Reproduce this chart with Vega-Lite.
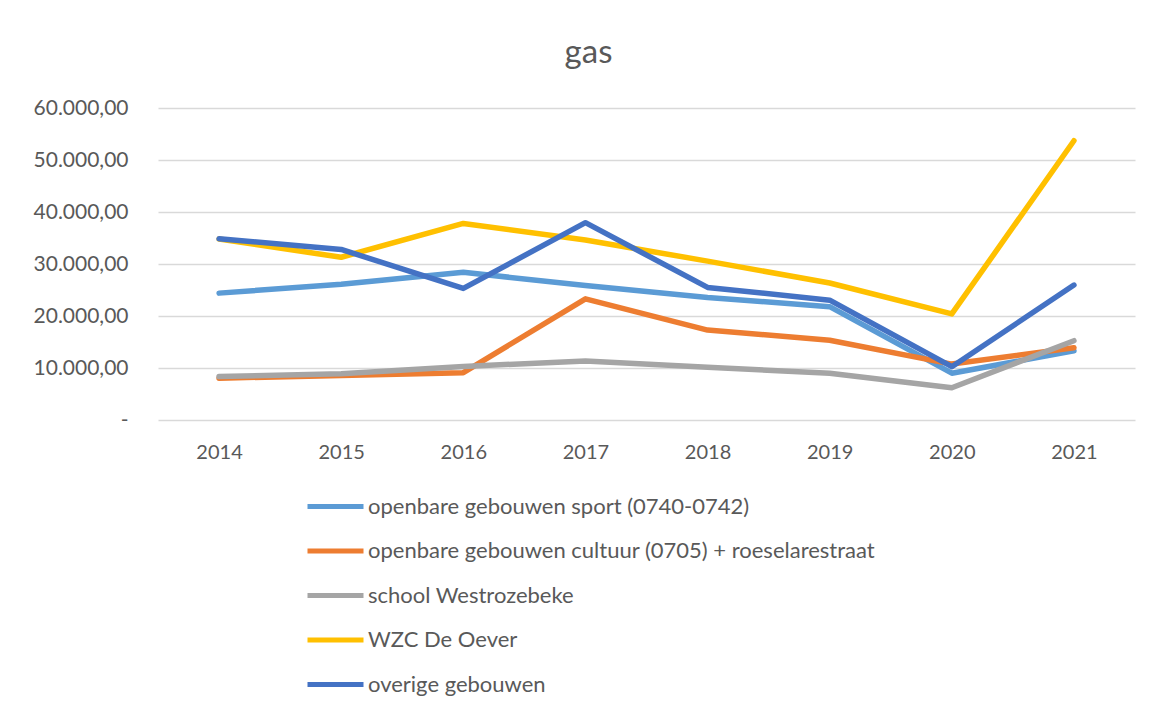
{
  "$schema": "https://vega.github.io/schema/vega-lite/v6.json",
  "width": 977,
  "height": 312,
  "autosize": {"type": "none"},
  "padding": {"left": 158, "top": 108, "right": 26, "bottom": 291},
  "background": "white",
  "title": {
    "text": "gas",
    "fontSize": 33,
    "font": "Lato",
    "fontWeight": "normal",
    "color": "#595959",
    "anchor": "middle",
    "dx": -58,
    "offset": 1,
    "baseline": "alphabetic"
  },
  "config": {
    "font": "Lato",
    "view": {"stroke": null},
    "axis": {
      "labelFont": "Lato",
      "labelFontSize": 20,
      "labelColor": "#595959",
      "gridColor": "#D9D9D9",
      "gridWidth": 1.3,
      "domain": false,
      "ticks": false,
      "title": null
    },
    "legend": {
      "labelFont": "Lato",
      "labelFontSize": 22,
      "labelColor": "#595959",
      "labelLimit": 0
    }
  },
  "data": {
    "values": [
      {"year": "2014", "series": "openbare gebouwen sport (0740-0742)", "value": 24400},
      {"year": "2015", "series": "openbare gebouwen sport (0740-0742)", "value": 26100},
      {"year": "2016", "series": "openbare gebouwen sport (0740-0742)", "value": 28400},
      {"year": "2017", "series": "openbare gebouwen sport (0740-0742)", "value": 25850},
      {"year": "2018", "series": "openbare gebouwen sport (0740-0742)", "value": 23550},
      {"year": "2019", "series": "openbare gebouwen sport (0740-0742)", "value": 21800},
      {"year": "2020", "series": "openbare gebouwen sport (0740-0742)", "value": 9000},
      {"year": "2021", "series": "openbare gebouwen sport (0740-0742)", "value": 13300},
      {"year": "2014", "series": "openbare gebouwen cultuur (0705) + roeselarestraat", "value": 8050},
      {"year": "2015", "series": "openbare gebouwen cultuur (0705) + roeselarestraat", "value": 8550},
      {"year": "2016", "series": "openbare gebouwen cultuur (0705) + roeselarestraat", "value": 9100},
      {"year": "2017", "series": "openbare gebouwen cultuur (0705) + roeselarestraat", "value": 23300},
      {"year": "2018", "series": "openbare gebouwen cultuur (0705) + roeselarestraat", "value": 17300},
      {"year": "2019", "series": "openbare gebouwen cultuur (0705) + roeselarestraat", "value": 15350},
      {"year": "2020", "series": "openbare gebouwen cultuur (0705) + roeselarestraat", "value": 10750},
      {"year": "2021", "series": "openbare gebouwen cultuur (0705) + roeselarestraat", "value": 13900},
      {"year": "2014", "series": "school Westrozebeke", "value": 8350},
      {"year": "2015", "series": "school Westrozebeke", "value": 8900},
      {"year": "2016", "series": "school Westrozebeke", "value": 10300},
      {"year": "2017", "series": "school Westrozebeke", "value": 11350},
      {"year": "2018", "series": "school Westrozebeke", "value": 10150},
      {"year": "2019", "series": "school Westrozebeke", "value": 9000},
      {"year": "2020", "series": "school Westrozebeke", "value": 6200},
      {"year": "2021", "series": "school Westrozebeke", "value": 15250},
      {"year": "2014", "series": "WZC De Oever", "value": 34800},
      {"year": "2015", "series": "WZC De Oever", "value": 31300},
      {"year": "2016", "series": "WZC De Oever", "value": 37800},
      {"year": "2017", "series": "WZC De Oever", "value": 34600},
      {"year": "2018", "series": "WZC De Oever", "value": 30550},
      {"year": "2019", "series": "WZC De Oever", "value": 26350},
      {"year": "2020", "series": "WZC De Oever", "value": 20400},
      {"year": "2021", "series": "WZC De Oever", "value": 53700},
      {"year": "2014", "series": "overige gebouwen", "value": 34850},
      {"year": "2015", "series": "overige gebouwen", "value": 32800},
      {"year": "2016", "series": "overige gebouwen", "value": 25300},
      {"year": "2017", "series": "overige gebouwen", "value": 37950},
      {"year": "2018", "series": "overige gebouwen", "value": 25500},
      {"year": "2019", "series": "overige gebouwen", "value": 23050},
      {"year": "2020", "series": "overige gebouwen", "value": 10250},
      {"year": "2021", "series": "overige gebouwen", "value": 25950}
    ]
  },
  "mark": {"type": "line", "strokeWidth": 5.5, "strokeCap": "round", "strokeJoin": "round"},
  "encoding": {
    "x": {
      "field": "year",
      "type": "ordinal",
      "scale": {"type": "point", "padding": 0.5},
      "axis": {"labelAngle": 0, "grid": false, "labelPadding": 22}
    },
    "y": {
      "field": "value",
      "type": "quantitative",
      "scale": {"domain": [0, 60000], "nice": false},
      "axis": {
        "values": [0, 10000, 20000, 30000, 40000, 50000, 60000],
        "labelPadding": 30,
        "labelFontSize": 21,
        "labelExpr": "datum.value == 0 ? '-' : replace(replace(replace(format(datum.value, ',.2f'), ',', '_'), '.', ','), '_', '.')"
      }
    },
    "color": {
      "field": "series",
      "type": "nominal",
      "sort": [
        "openbare gebouwen sport (0740-0742)",
        "openbare gebouwen cultuur (0705) + roeselarestraat",
        "school Westrozebeke",
        "WZC De Oever",
        "overige gebouwen"
      ],
      "scale": {
        "domain": [
          "openbare gebouwen sport (0740-0742)",
          "openbare gebouwen cultuur (0705) + roeselarestraat",
          "school Westrozebeke",
          "WZC De Oever",
          "overige gebouwen"
        ],
        "range": ["#5B9BD5", "#ED7D31", "#A5A5A5", "#FFC000", "#4472C4"]
      },
      "legend": {
        "title": null,
        "orient": "none",
        "legendX": 147,
        "legendY": 368,
        "direction": "vertical",
        "symbolType": "stroke",
        "symbolSize": 3136,
        "symbolStrokeWidth": 5,
        "rowPadding": 2.5,
        "labelOffset": 2
      }
    }
  }
}
